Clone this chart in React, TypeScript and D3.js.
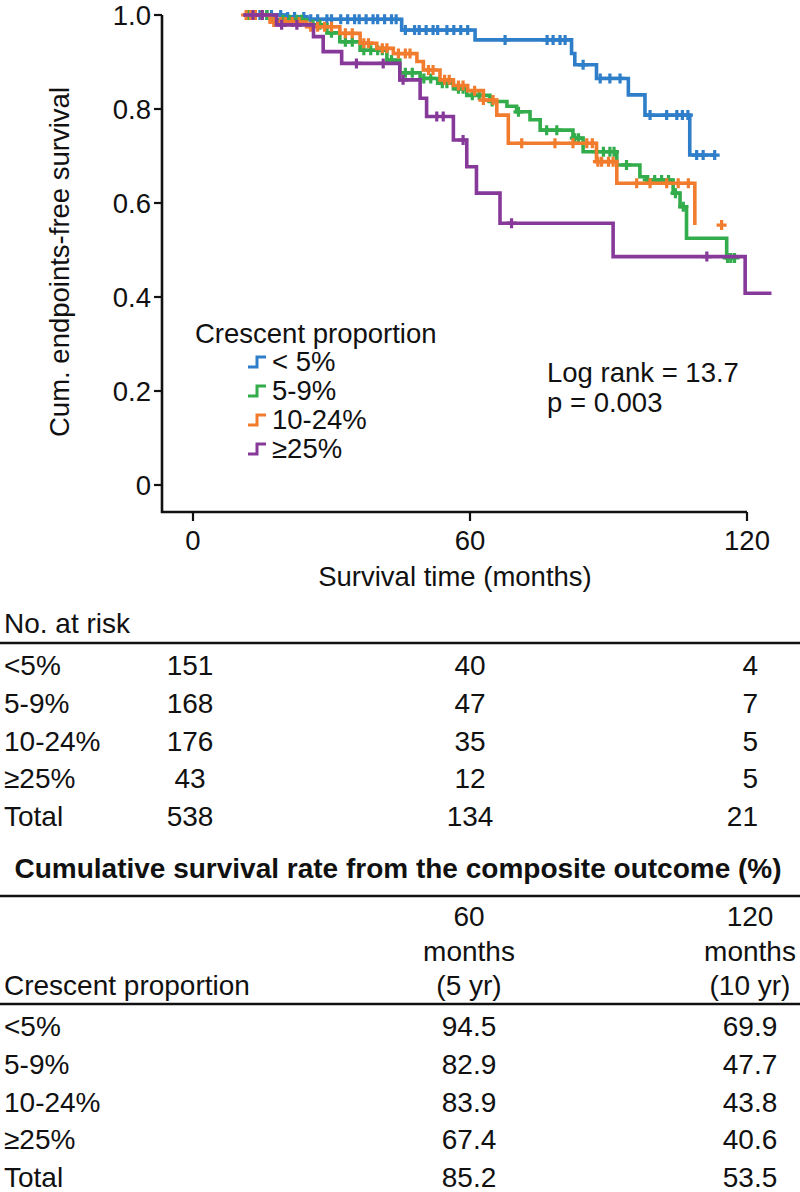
import React from 'react'
import * as d3 from 'd3'

// Kaplan-Meier steps (months, survival)
const blueTimes = [10.9, 20, 24.6, 45.2, 61.1, 82, 82.7, 87.4, 94.3, 97.9, 107.6, 113]
const blueSurv = [1, 0.996, 0.991, 0.968, 0.947, 0.918, 0.894, 0.865, 0.83, 0.787, 0.702, 0.702]
const blueCensor = [
  12, 13, 14.5, 16, 17, 19, 20.5, 22, 24, 25.5, 27, 29, 30, 32, 33.5, 35, 36, 37.5, 39, 40,
  41.5, 43, 44, 46, 48, 49, 50.5, 52, 53, 55, 56.5, 58, 59.5, 67.6, 76.7, 78, 79.5, 80.6,
  84.5, 88.2, 90.3, 92.5, 99, 102.6, 104.8, 106, 107.2, 109.1, 110.5, 113,
]

const greenTimes = [
  10.9, 17, 24.6, 29, 31.8, 36.2, 42, 44.8, 49.2, 53, 56.4, 59.3, 64.3, 68, 70.1, 73, 75.2,
  82.3, 84.5, 91.8, 96.8, 98.3, 104, 105.5, 106.9, 115.6, 117.3,
]
const greenSurv = [
  1, 0.99, 0.979, 0.962, 0.943, 0.925, 0.904, 0.877, 0.865, 0.855, 0.843, 0.829, 0.816, 0.806,
  0.794, 0.777, 0.755, 0.738, 0.709, 0.681, 0.656, 0.649, 0.621, 0.592, 0.525, 0.483, 0.483,
]
const greenCensor = [
  12, 13.5, 15, 16, 18, 19.5, 21, 22.5, 23.5, 26, 27.5, 30, 33, 34.5, 37, 38.5, 40, 41, 43, 46,
  47.5, 50, 51.5, 54, 55, 57.5, 58.5, 60.5, 62, 64.8, 70.5, 76.6, 78.8, 82.7, 83.5, 87.4, 88.9,
  90.3, 91.2, 93.9, 98.5, 100, 101.5, 103, 104.5, 106.2, 115.8, 116.5, 117.3,
]

const orangeTimes = [
  10.9, 16.7, 24.6, 31.8, 36.2, 39.8, 43.4, 48.5, 49.9, 53.5, 56.4, 59.5, 62.9, 65.8, 68.3,
  87.4, 91.8, 108.7,
]
const orangeSurv = [
  1, 0.985, 0.975, 0.961, 0.94, 0.929, 0.918, 0.901, 0.883, 0.862, 0.85, 0.839, 0.819, 0.787,
  0.727, 0.688, 0.642, 0.553,
]
const orangeCensor = [
  11.5, 12.5, 13.5, 15, 17.5, 19, 20, 21.5, 23, 25.5, 27, 28.5, 30, 33, 34.5, 37, 38, 41, 42,
  44.5, 46, 47, 51, 52, 54.5, 55.5, 57.5, 58.5, 61, 62.9, 65, 71.2, 78.4, 82.3, 85.3, 86.5,
  87.7, 88.5, 90, 91, 96.1, 99, 102.6, 105.1, 107.3, 114.5,
]

const purpleTimes = [10.9, 18.1, 26.1, 28.2, 32.2, 44.8, 49.2, 50.6, 56.4, 59.3, 61.4, 66.5, 91, 119.6, 125.3]
const purpleSurv = [1, 0.979, 0.954, 0.922, 0.897, 0.862, 0.823, 0.784, 0.734, 0.677, 0.621, 0.557, 0.486, 0.408, 0.408]
const purpleCensor = [13, 15, 19.2, 22.5, 35.4, 41.2, 45.5, 52.8, 54.2, 58.5, 69, 111.3]

const legendTitle = 'Crescent proportion'
const groupNames = ['< 5%', '5-9%', '10-24%', '≥25%']
const yTicks = [0, 0.2, 0.4, 0.6, 0.8, 1.0]
const yTickLabels = ['0', '0.2', '0.4', '0.6', '0.8', '1.0']
const xTicks = [0, 60, 120]

// tables
const riskGroups = ['<5%', '5-9%', '10-24%', '≥25%', 'Total']
const riskAt0 = [151, 168, 176, 43, 538]
const riskAt60 = [40, 47, 35, 12, 134]
const riskAt120 = [4, 7, 5, 5, 21]
const rate60 = ['94.5', '82.9', '83.9', '67.4', '85.2']
const rate120 = ['69.9', '47.7', '43.8', '40.6', '53.5']

const colors = ['#2f7ec9', '#33ac4b', '#f27c2e', '#87399a']
const font = '"Liberation Sans", Arial, sans-serif'

const series = [
  { times: blueTimes, surv: blueSurv, censor: blueCensor },
  { times: greenTimes, surv: greenSurv, censor: greenCensor },
  { times: orangeTimes, surv: orangeSurv, censor: orangeCensor },
  { times: purpleTimes, surv: purpleSurv, censor: purpleCensor },
]

const App = () => {
  const x = d3.scaleLinear().domain([0, 120]).range([193, 747])
  const y = d3.scaleLinear().domain([0, 1]).range([485, 15])
  const line = d3
    .line<[number, number]>()
    .x((d) => x(d[0]))
    .y((d) => y(d[1]))
    .curve(d3.curveStepAfter)

  const survAt = (times: number[], surv: number[], t: number) => {
    const i = d3.bisectRight(times, t) - 1
    return surv[Math.max(0, i)]
  }

  const fs = 27.5
  const tfs = 28

  return (
    <div style={{ position: 'absolute', left: 0, top: 0 }}>
      <svg width={800} height={1192} style={{ display: 'block', fontFamily: font }}>
        <rect width={800} height={1192} fill="#fff" />

        {/* axes */}
        <path d="M162,15 V512 H747" fill="none" stroke="#111" strokeWidth={2.6} />
        {yTicks.map((t, i) => (
          <g key={'y' + t}>
            <line x1={154} x2={162} y1={y(t)} y2={y(t)} stroke="#111" strokeWidth={2.2} />
            <text x={151} y={y(t) + 10} textAnchor="end" fontSize={fs} fill="#111">
              {yTickLabels[i]}
            </text>
          </g>
        ))}
        {xTicks.map((t) => (
          <g key={'x' + t}>
            <line x1={x(t)} x2={x(t)} y1={512} y2={521} stroke="#111" strokeWidth={2.2} />
            <text x={x(t)} y={550} textAnchor="middle" fontSize={fs} fill="#111">
              {t}
            </text>
          </g>
        ))}
        <text x={455} y={586} textAnchor="middle" fontSize={fs} fill="#111">
          Survival time (months)
        </text>
        <text
          transform="translate(69,262) rotate(-90)"
          textAnchor="middle"
          fontSize={fs}
          fill="#111"
        >
          Cum. endpoints-free survival
        </text>

        {/* curves */}
        {series.map((s, k) => {
          const pts = s.times.map((t, i) => [t, s.surv[i]] as [number, number])
          return (
            <g key={'s' + k} stroke={colors[k]} fill="none">
              <path d={line(pts) ?? ''} strokeWidth={3.6} />
              {s.censor.map((c, j) => {
                const cx = x(c)
                const cy = y(survAt(s.times, s.surv, c))
                return (
                  <path
                    key={j}
                    d={`M${cx - 5},${cy}H${cx + 5}M${cx},${cy - 5}V${cy + 5}`}
                    strokeWidth={3.2}
                  />
                )
              })}
            </g>
          )
        })}

        {/* legend */}
        <text x={195} y={343} fontSize={fs} fill="#111">
          {legendTitle}
        </text>
        {groupNames.map((g, i) => {
          const by = 371 + i * 29
          const cy = by - 9
          return (
            <g key={g}>
              <path
                d={`M248,${cy + 5}H257V${cy - 5}H266`}
                fill="none"
                stroke={colors[i]}
                strokeWidth={3}
              />
              <text x={272} y={by} fontSize={fs} fill="#111">
                {g}
              </text>
            </g>
          )
        })}

        <text x={547} y={382} fontSize={fs} fill="#111">
          Log rank = 13.7
        </text>
        <text x={547} y={412} fontSize={fs} fill="#111">
          p = 0.003
        </text>

        {/* number at risk */}
        <text x={4} y={633} fontSize={tfs} fill="#111">
          No. at risk
        </text>
        <line x1={0} x2={800} y1={643} y2={643} stroke="#111" strokeWidth={2.5} />
        {riskGroups.map((g, i) => {
          const by = 675 + i * 37.8
          return (
            <g key={'r' + g} fontSize={tfs} fill="#111">
              <text x={4} y={by}>{g}</text>
              <text x={190} y={by} textAnchor="middle">{riskAt0[i]}</text>
              <text x={470} y={by} textAnchor="middle">{riskAt60[i]}</text>
              <text x={758} y={by} textAnchor="end">{riskAt120[i]}</text>
            </g>
          )
        })}

        {/* cumulative survival table */}
        <text x={398} y={878} textAnchor="middle" fontSize={tfs} fontWeight="bold" fill="#111">
          Cumulative survival rate from the composite outcome (%)
        </text>
        <line x1={0} x2={800} y1={896} y2={896} stroke="#111" strokeWidth={2.5} />
        <g fontSize={tfs} fill="#111" textAnchor="middle">
          <text x={469} y={926}>60</text>
          <text x={469} y={961}>months</text>
          <text x={469} y={995}>(5 yr)</text>
          <text x={750} y={926}>120</text>
          <text x={750} y={961}>months</text>
          <text x={750} y={995}>(10 yr)</text>
        </g>
        <text x={4} y={995} fontSize={tfs} fill="#111">
          Crescent proportion
        </text>
        <line x1={0} x2={800} y1={1004} y2={1004} stroke="#111" strokeWidth={2.5} />
        {riskGroups.map((g, i) => {
          const by = 1036 + i * 37.8
          return (
            <g key={'c' + g} fontSize={tfs} fill="#111">
              <text x={4} y={by}>{g}</text>
              <text x={469} y={by} textAnchor="middle">{rate60[i]}</text>
              <text x={750} y={by} textAnchor="middle">{rate120[i]}</text>
            </g>
          )
        })}
      </svg>
    </div>
  )
}

export default App
